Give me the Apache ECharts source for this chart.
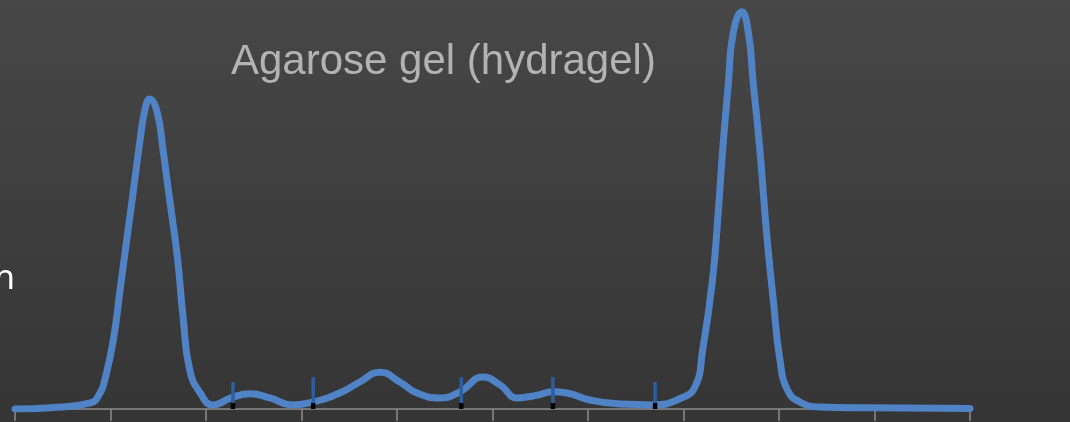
<!DOCTYPE html>
<html>
<head>
<meta charset="utf-8">
<script src="https://cdn.jsdelivr.net/npm/echarts@6/dist/echarts.min.js"></script>
<style>
  html, body { margin: 0; padding: 0; }
  #chart { width: 1070px; height: 422px; }
</style>
</head>
<body>
<div id="chart"></div>
<script>
// densitometry trace, x = migration (0..10), y = relative absorbance (0..100)
const traceX = [0, 0.37, 0.79, 0.89, 0.94, 1.03, 1.10, 1.17, 1.24, 1.31, 1.36, 1.41, 1.49, 1.55, 1.62, 1.70, 1.76, 1.83, 1.94, 2.07,
  2.28, 2.46, 2.67, 2.91, 3.12, 3.40, 3.61, 3.82, 4.03, 4.21, 4.45, 4.66, 4.90, 5.08, 5.26, 5.47, 5.63, 5.78, 6.02, 6.34, 6.68,
  6.96, 7.12, 7.20, 7.30, 7.36, 7.41, 7.47, 7.52, 7.61, 7.68, 7.73, 7.80, 7.87, 7.94, 8.01, 8.09, 8.22, 8.43, 8.95, 10];
const traceY = [0, 0.3, 1.5, 3.9, 7.1, 16.9, 29.1, 41.3, 53.5, 65.8, 73.1, 75.8, 72.4, 63.3, 51.1, 37.2, 22.5, 9.5, 3.9, 1.0,
  2.9, 3.7, 2.7, 1.0, 1.7, 3.9, 6.6, 9.0, 6.6, 3.9, 2.7, 4.2, 7.8, 5.9, 2.7, 3.4, 4.2, 3.9, 2.2, 1.2, 1.0,
  2.5, 5.4, 14.4, 30.8, 46.9, 63.3, 79.7, 91.9, 97.1, 91.9, 79.7, 63.3, 43.0, 26.7, 12.0, 4.6, 1.7, 0.5, 0.3, 0.1];
// fraction boundaries
const cutX = [2.28, 3.12, 4.67, 5.63, 6.70];
const cutTop = [6.6, 7.8, 7.8, 7.8, 6.6];

const chart = echarts.init(document.getElementById('chart'));

const option = {
  backgroundColor: new echarts.graphic.LinearGradient(0, 0, 0, 1, [
    { offset: 0, color: '#474747' },
    { offset: 1, color: '#353535' }
  ]),
  animation: false,
  title: {
    text: 'Agarose gel (hydragel)',
    left: 226,
    top: 36,
    textStyle: {
      color: '#b3b3b3',
      fontSize: 42,
      fontWeight: 'normal',
      fontFamily: 'Liberation Sans'
    }
  },
  graphic: [{
    type: 'text',
    left: -6,
    top: 262,
    style: {
      text: 'n',
      fill: '#ffffff',
      font: '34px "Noto Sans"'
    }
  }],
  grid: { left: 15, right: 100, top: 0, bottom: 13 },
  xAxis: {
    type: 'value',
    min: 0,
    max: 10,
    interval: 1,
    axisLine: { lineStyle: { color: '#8c8c8c', width: 1.5 } },
    axisTick: { show: true, length: 12, inside: false, lineStyle: { color: '#8c8c8c', width: 1.5 } },
    axisLabel: { show: false },
    splitLine: { show: false }
  },
  yAxis: {
    type: 'value',
    min: 0,
    max: 100,
    show: false
  },
  series: [
    {
      type: 'line',
      data: traceX.map((x, i) => [x, traceY[i]]),
      smooth: 0.5,
      symbol: 'none',
      lineStyle: { color: '#4f83c6', width: 7, cap: 'round', join: 'round' },
      z: 2
    },
    {
      type: 'custom',
      data: cutX.map((x, i) => [x, cutTop[i]]),
      z: 5,
      renderItem: function (params, api) {
        const top = api.coord([api.value(0), api.value(1)]);
        const base = api.coord([api.value(0), 0]);
        return {
          type: 'group',
          children: [
            { type: 'rect', shape: { x: top[0] - 1.5, y: top[1], width: 3.5, height: base[1] - top[1] - 6 }, style: { fill: '#2d5e9e' } },
            { type: 'rect', shape: { x: top[0] - 2, y: base[1] - 6, width: 4.5, height: 6 }, style: { fill: '#000000' } }
          ]
        };
      }
    }
  ]
};

chart.setOption(option);
window.addEventListener('resize', () => { chart.resize(); });
</script>
</body>
</html>
